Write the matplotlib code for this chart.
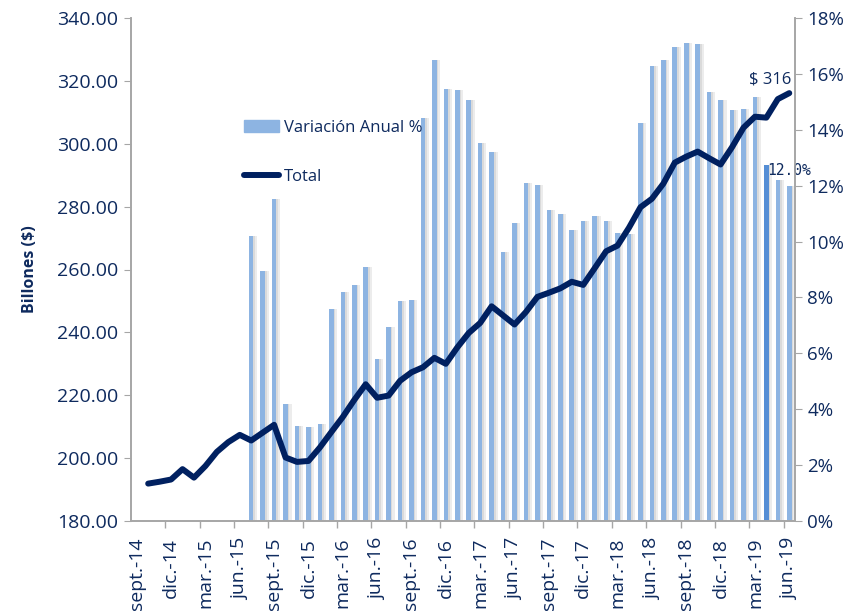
import numpy as np
import matplotlib
matplotlib.use("Agg")
import matplotlib.pyplot as plt
from matplotlib.patches import Patch
from matplotlib.lines import Line2D

# etiquetas del eje x (una cada 3 meses, desde sept.-14)
tick_labels = ["sept.-14", "dic.-14", "mar.-15", "jun.-15", "sept.-15", "dic.-15",
               "mar.-16", "jun.-16", "sept.-16", "dic.-16", "mar.-17", "jun.-17",
               "sept.-17", "dic.-17", "mar.-18", "jun.-18", "sept.-18", "dic.-18",
               "mar.-19", "jun.-19"]

# saldo total mensual (Billones $), sept.-14 .. jun.-19
total = [None, 191.9, 192.5, 193.2, 196.5, 193.8, 197.5, 202.0, 205.1, 207.4,
         205.6, 208.1, 210.6, 200.2, 198.8, 199.1, 203.4, 208.3, 213.1, 218.5,
         223.5, 219.2, 219.9, 224.6, 227.3, 228.9, 231.9, 230.0, 235.2, 239.8,
         243.0, 248.3, 245.4, 242.5, 246.5, 251.3, 252.6, 254.0, 256.1, 255.1,
         260.4, 265.8, 267.6, 273.3, 279.8, 282.5, 287.3, 294.0, 295.9, 297.5,
         295.4, 293.4, 298.9, 305.1, 308.6, 308.3, 314.2, 316.1]

# variacion anual % (mismos meses)
variacion = [None] * 10 + [
    10.20, 8.93, 11.53, 4.19, 3.40, 3.38, 3.48, 7.60, 8.19, 8.43,
    9.08, 5.81, 6.96, 7.86, 7.91, 14.43, 16.51, 15.47, 15.41, 15.07,
    13.52, 13.22, 9.64, 10.68, 12.10, 12.02, 11.14, 10.97, 10.40, 10.72,
    10.92, 10.74, 10.32, 10.26, 14.23, 16.29, 16.49, 16.97, 17.09, 17.06,
    15.34, 15.06, 14.70, 14.76, 15.18, 12.75, 12.22, 11.98]

highlight = 55  # barra resaltada (abr.-19)

navy = "#0E2A5E"
line_c = "#002060"
bar_c = "#8DB4E2"
dark_c = "#558ED5"
grey = "#A6A6A6"

plt.rcParams["font.family"] = ["Open Sans", "DejaVu Sans"]

x = np.arange(len(total))
tot = np.array([np.nan if v is None else v for v in total])
var = np.array([np.nan if v is None else v for v in variacion])
has_bar = ~np.isnan(var)

fig = plt.figure(figsize=(8.54, 6.16), dpi=100)
ax = fig.add_axes([0.1534, 0.1542, 0.9309 - 0.1534, 0.9708 - 0.1542])
ax2 = ax.twinx()

# barras (eje derecho) con una sombra gris suave a la derecha
ax2.bar(x[has_bar] + 0.36, var[has_bar], width=0.32, color="#ECECEC", zorder=1)
ax2.bar(x[has_bar] + 0.27, var[has_bar], width=0.14, color="#DADADA", zorder=1)
colors = [dark_c if i == highlight else bar_c for i in x[has_bar]]
ax2.bar(x[has_bar], var[has_bar], width=0.4, color=colors, zorder=2)
ax2.set_ylim(0, 18)
ax2.set_yticks(np.arange(0, 19, 2))
ax2.set_yticklabels([f"{v}%" for v in range(0, 19, 2)])

# linea total (eje izquierdo) encima de las barras
ax.set_zorder(ax2.get_zorder() + 1)
ax.patch.set_visible(False)
ax.plot(x, tot, color=line_c, lw=4.3, solid_capstyle="round", solid_joinstyle="round")
ax.set_ylim(180, 340)
ax.set_yticks(np.arange(180, 341, 20))
ax.set_yticklabels([f"{v:.2f}" for v in range(180, 341, 20)])
ax.set_xlim(-0.5, len(total) - 0.5)
ax.set_ylabel("Billones ($)", color=navy, fontsize=11.5, fontweight="bold", labelpad=14)

ax.set_xticks(np.arange(0, len(total), 3))
ax.set_xticklabels(tick_labels, rotation=90)
ax.set_xticks(np.arange(2.5, len(total) - 1, 3), minor=True)
ax.tick_params(axis="x", which="major", length=0, pad=12, labelsize=14, labelcolor=navy)
ax.tick_params(axis="x", which="minor", length=5, color=grey, width=1)
ax.tick_params(axis="y", length=5, color=grey, labelsize=14, labelcolor=navy, pad=4)
ax2.tick_params(axis="y", length=5, color=grey, labelsize=13.5, labelcolor=navy, pad=4)

for a in (ax, ax2):
    a.spines["top"].set_visible(False)
    for s in ("left", "right", "bottom"):
        a.spines[s].set_color(grey)
        a.spines[s].set_linewidth(1.2)

# anotaciones
ax.text(55.3, 320.4, f"$ {tot[-1]:.0f}", color=navy, fontsize=12, ha="center", va="center")
ax2.text(57.0, 12.56, f"{var[-1]:.1f}%", color=navy, fontsize=10.5,
         family="DejaVu Sans Mono", ha="center", va="center", zorder=5)

handles = [Patch(color=bar_c), Line2D([], [], color=line_c, lw=4.3, solid_capstyle="round")]
fig.legend(handles, ["Variación Anual %", "Total"], loc="upper left",
           bbox_to_anchor=(0.268, 0.83), frameon=False, fontsize=12,
           labelcolor=navy, handlelength=2.1, handletextpad=0.3, labelspacing=2.0)

fig.savefig("out.png", dpi=100)
